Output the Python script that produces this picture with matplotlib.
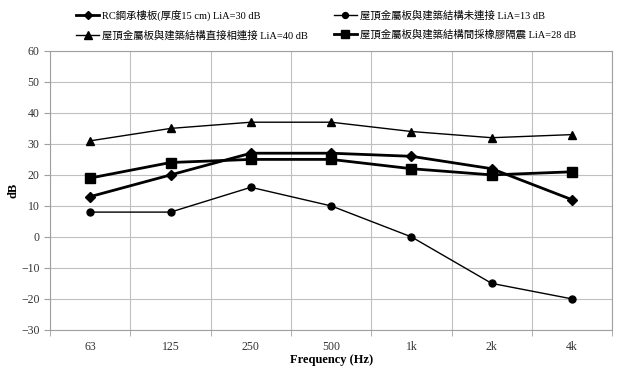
import numpy as np
import matplotlib.pyplot as plt

plt.rcParams['font.family'] = ['Liberation Serif', 'Noto Sans CJK TC']

freqs = ['63', '125', '250', '500', '1k', '2k', '4k']
rcSlab = [13, 20, 27, 27, 26, 22, 12]
unconnected = [8, 8, 16, 10, 0, -15, -20]
direct = [31, 35, 37, 37, 34, 32, 33]
rubber = [19, 24, 25, 25, 22, 20, 21]

labels = [
    'RC鋼承樓板(厚度15 cm) LiA=30 dB',
    '屋頂金屬板與建築結構直接相連接 LiA=40 dB',
    '屋頂金屬板與建築結構未連接 LiA=13 dB',
    '屋頂金屬板與建築結構間採橡膠隔震 LiA=28 dB',
]

fig = plt.figure(figsize=(6.35, 3.69), dpi=100)
ax = fig.add_axes([0.079, 0.106, 0.885, 0.756])

x = np.arange(len(freqs))
h1, = ax.plot(x, rcSlab, color='black', lw=2.0, marker='D', ms=5)
h2, = ax.plot(x, direct, color='black', lw=1.0, marker='^', ms=6)
h3, = ax.plot(x, unconnected, color='black', lw=1.0, marker='o', ms=5)
h4, = ax.plot(x, rubber, color='black', lw=2.0, marker='s', ms=7)

ax.set_xlim(-0.5, len(freqs) - 0.5)
ax.set_ylim(-30, 60)
ax.set_yticks(np.arange(-30, 61, 10))
ax.set_xticks(x)
ax.set_xticklabels(freqs)
ax.set_xticks(np.arange(-0.5, len(freqs), 1), minor=True)
ax.grid(axis='y', color='#c0c0c0', lw=0.8)
ax.grid(axis='x', which='minor', color='#c0c0c0', lw=0.8)
ax.tick_params(axis='x', which='major', length=0, pad=8, labelsize=8.5, colors='#333333')
ax.tick_params(axis='x', which='minor', length=4, color='#a0a0a0')
ax.tick_params(axis='y', length=4, color='#a0a0a0', labelsize=8.5, labelcolor='#333333')
ax.set_axisbelow(True)
for s in ax.spines.values():
    s.set_color('#a0a0a0')
    s.set_linewidth(0.8)

ax.set_xlabel('Frequency (Hz)', fontweight='bold', fontsize=9, labelpad=1)
ax.set_ylabel('dB', fontweight='bold', fontsize=9)
ax.yaxis.set_label_coords(-0.055, 0.5)

fig.legend([h1, h2, h3, h4], labels, ncol=2, loc='upper left',
           bbox_to_anchor=(0.105, 1.0), frameon=False, fontsize=7.5,
           handlelength=2.2, columnspacing=2.5, labelspacing=0.9,
           handletextpad=0.3, markerscale=0.85)

fig.savefig('out.png', dpi=100)
